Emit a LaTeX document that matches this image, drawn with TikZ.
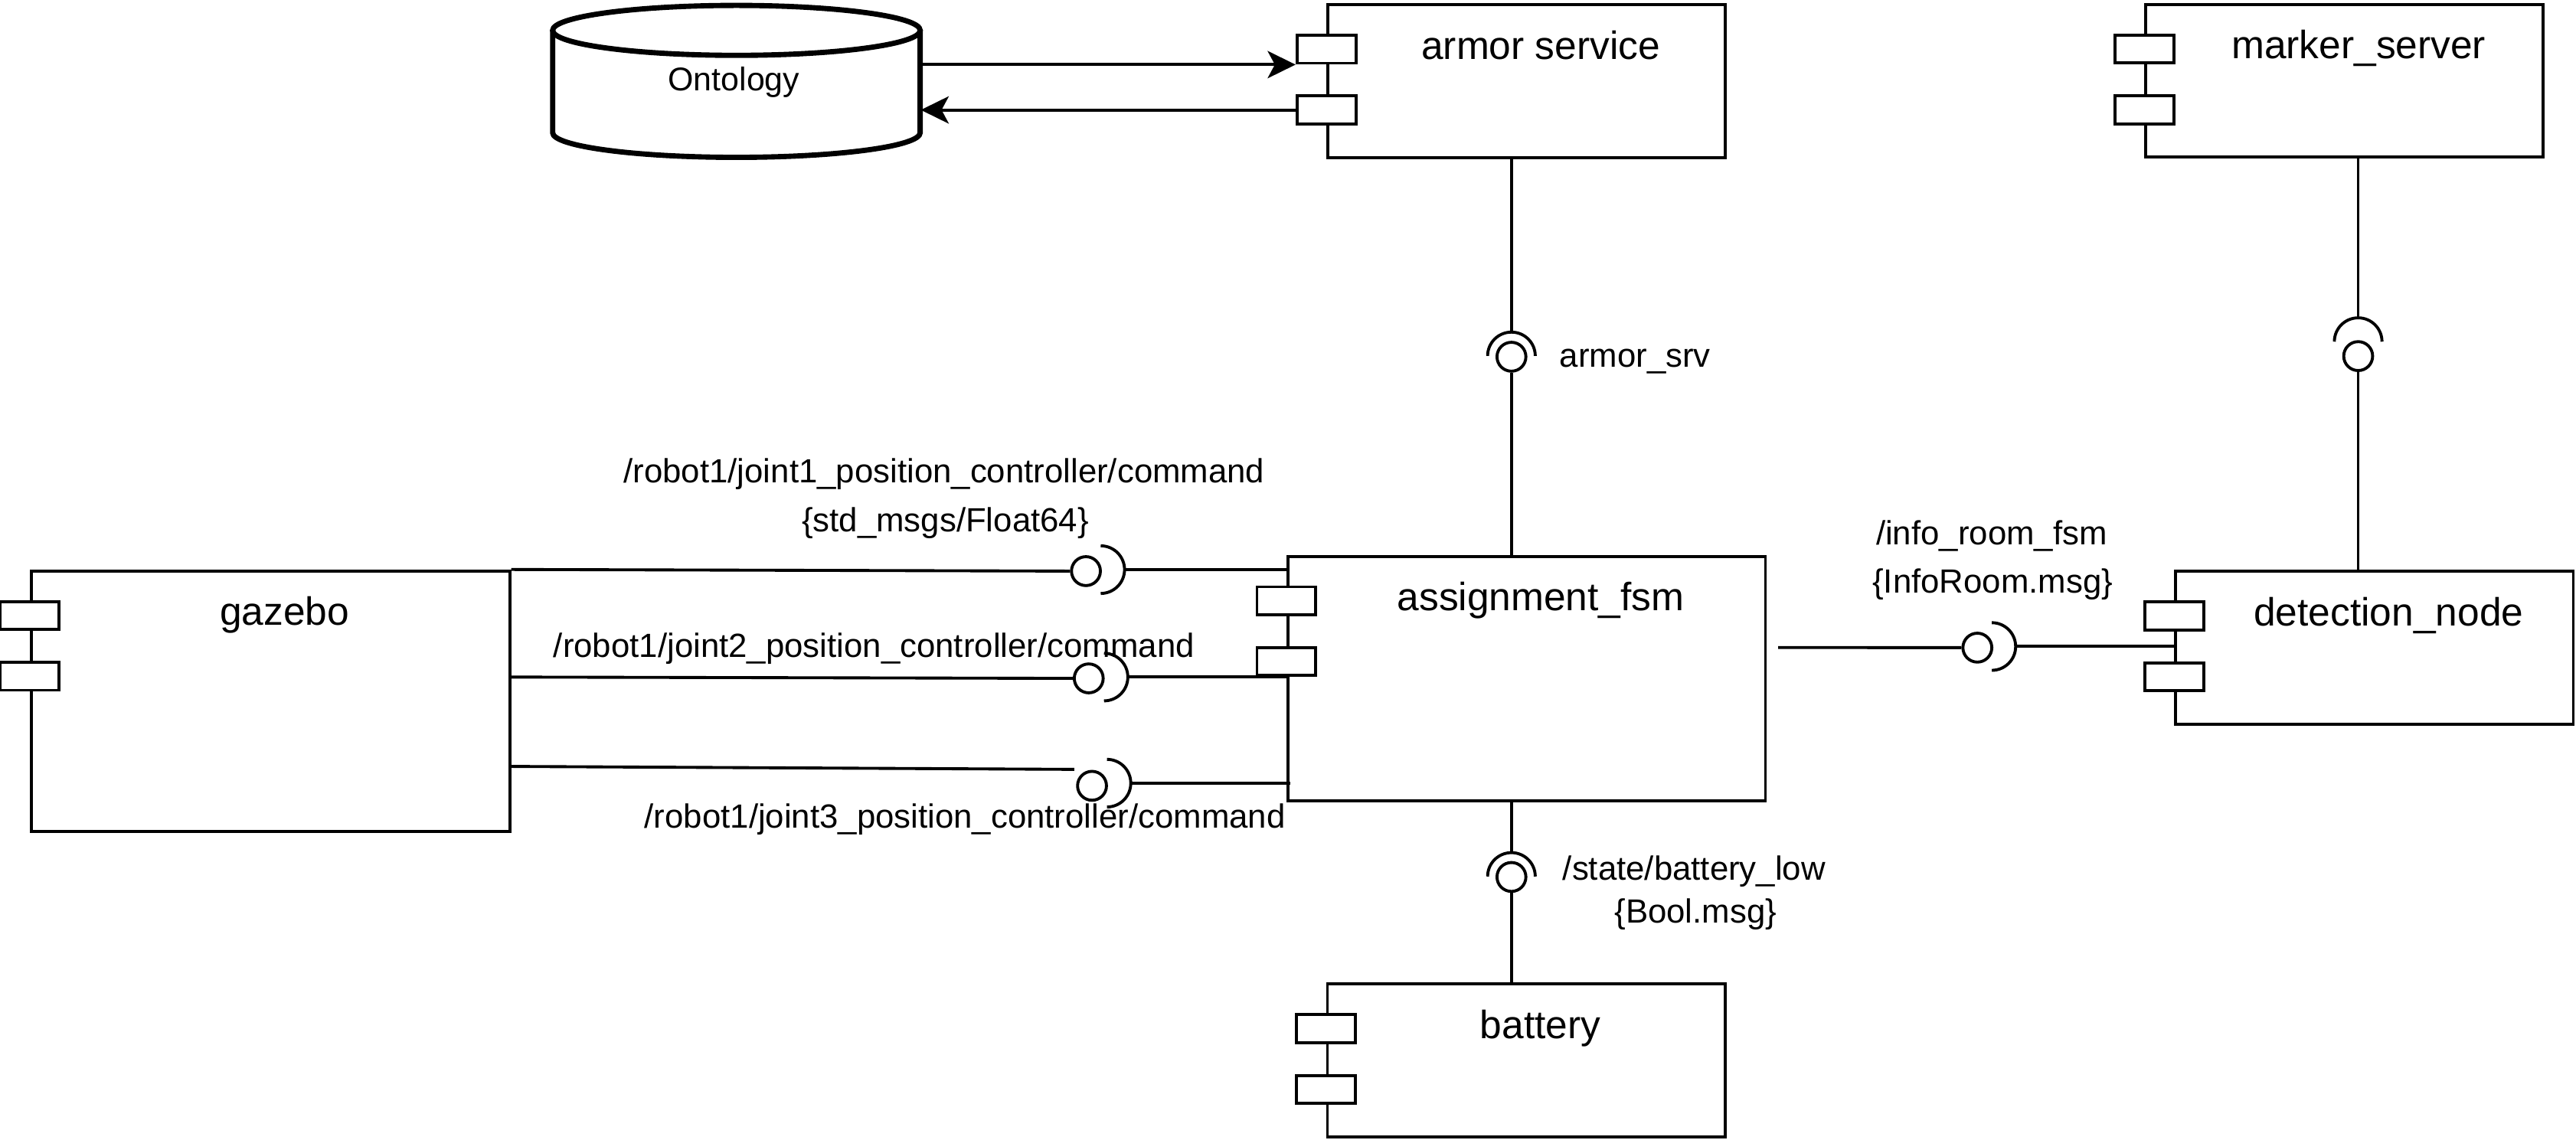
\documentclass[tikz,border=0pt]{standalone}
\usepackage{fontspec}
\setmainfont{Liberation Sans}
\usetikzlibrary{arrows.meta}
\begin{document}
\begin{tikzpicture}[x=0.5pt, y=-0.5pt,
  comp/.style={draw, rectangle, line width=0.9pt, fill=white, inner sep=0pt},
  smallbox/.style={comp, minimum width=121pt, minimum height=46.5pt},
  port/.style={draw, rectangle, line width=0.9pt, fill=white, inner sep=0pt, minimum width=17.9pt, minimum height=8.5pt},
  cname/.style={font=\fontsize{12}{14}\selectfont, anchor=base, inner sep=0pt},
  lbl/.style={font=\fontsize{10.2}{12}\selectfont, anchor=base, inner sep=0pt},
  ball/.style={circle, draw, line width=0.9pt, fill=white, inner sep=0pt, minimum size=8.8pt},
  wire/.style={line width=0.9pt},
  arr/.style={line width=0.9pt, -{Stealth[length=8.5pt, width=8.3pt, inset=2.2pt]}}
]
\useasboundingbox (0,0) rectangle (1568,693.6);

% ---------- Ontology cylinder ----------
\node[inner sep=0pt, minimum width=111.85pt, minimum height=46.15pt] (onto) at (448.25,49.45) {};
\draw[line width=1.6pt, fill=white] (336.4,18.5) -- (336.4,80.8)
  arc[start angle=180, end angle=0, x radius=111.85, y radius=15] -- (560.1,18.5);
\draw[line width=1.6pt, fill=white] (448.25,18.5) ellipse[x radius=111.85, y radius=15.2];
\node[font=\fontsize{10}{12}\selectfont, anchor=base, inner sep=0pt] (ontoT) at (446.7,55.2) {Ontology};

% ---------- components ----------
\node[smallbox] (armor) at (929.3,49.35) {};
\node[smallbox] (marker) at (1427.1,49.25) {};
\node[smallbox] (detect) at (1445.35,394.4) {};
\node[smallbox] (battery) at (929,645.65) {};
\node[comp, minimum width=145.65pt, minimum height=79.25pt] (gazebo) at (164.65,426.85) {};
\node[comp, minimum width=145.35pt, minimum height=74.35pt] (fsm) at (929.25,413.05) {};

\foreach \c in {armor,marker,detect,battery,gazebo,fsm}{
  \node[port] (\c P1) at ([yshift=-14pt]\c.north west) {};
  \node[port] (\c P2) at ([yshift=-32.5pt]\c.north west) {};
}

\node[cname] (armorT) at ([xshift=4.3pt, yshift=-17pt]armor.north) {armor service};
\node[cname] (markerT) at ([xshift=4.3pt, yshift=-17pt]marker.north) {marker\_server};
\node[cname] (detectT) at ([xshift=4.3pt, yshift=-17pt]detect.north) {detection\_node};
\node[cname] (batteryT) at ([xshift=4.3pt, yshift=-17pt]battery.north) {battery};
\node[cname] (gazeboT) at ([xshift=4.3pt, yshift=-17pt]gazebo.north) {gazebo};
\node[cname] (fsmT) at ([xshift=4.3pt, yshift=-17pt]fsm.north) {assignment\_fsm};

% ---------- ontology arrows ----------
\draw[arr] (onto.east |- armorP1.south) -- (armorP1.south west);
\draw[arr] (armorP2.west) -- (onto.east |- armorP2.west);

% ---------- armor_srv ----------
\coordinate (sockA) at (920,216.7);
\node[ball] (ballA) at (920,217.2) {};
\draw[wire] (armor.south -| sockA) -- ([yshift=7.25pt]sockA);
\draw[wire] ([xshift=-7.25pt]sockA) arc[start angle=180, end angle=360, radius=14.5];
\draw[wire] (ballA.south) -- (ballA |- fsm.north);
\node[lbl, anchor=base west] (armorL) at (949,223.3) {armor\_srv};

% ---------- marker_server -> detection_node ----------
\coordinate (sockM) at (1435.4,208);
\node[ball] (ballM) at (1435.4,216.8) {};
\draw[wire] (marker.south -| sockM) -- ([yshift=7.25pt]sockM);
\draw[wire] ([xshift=-7.25pt]sockM) arc[start angle=180, end angle=360, radius=14.5];
\draw[wire] (ballM.south) -- (ballM |- detect.north);

% ---------- battery ----------
\coordinate (sockB) at (920,533.6);
\node[ball] (ballB) at (920,533.9) {};
\draw[wire] (fsm.south -| sockB) -- ([yshift=7.25pt]sockB);
\draw[wire] ([xshift=-7.25pt]sockB) arc[start angle=180, end angle=360, radius=14.5];
\draw[wire] (ballB.south) -- (ballB |- battery.north);
\node[lbl] (batL1) at (1031.2,535.9) {/state/battery\_low};
\node[lbl] (batL2) at (1032.1,561.7) {\{Bool.msg\}};

% ---------- info_room_fsm ----------
\coordinate (infoStart) at (1082.3,394.2);
\coordinate (sockI) at (1212.4,393.6);
\node[ball] (ballI) at (1203.6,394.3) {};
\draw[wire] (infoStart) -- (ballI.west);
\draw[wire] ([yshift=7.25pt]sockI) arc[start angle=270, end angle=450, radius=14.5];
\draw[wire] ([xshift=7.25pt]sockI) -- (detect.west |- sockI);
\node[lbl] (infoL1) at (1212.3,331.7) {/info\_room\_fsm};
\node[lbl] (infoL2) at (1212.9,361.2) {\{InfoRoom.msg\}};

% ---------- joint1 ----------
\coordinate (sockJ1) at (670,346.8);
\node[ball] (ballJ1) at (661,347.7) {};
\draw[wire] (gazebo.north east) -- (ballJ1.west);
\draw[wire] ([yshift=7.25pt]sockJ1) arc[start angle=270, end angle=450, radius=14.5];
\draw[wire] ([xshift=7.25pt]sockJ1) -- (fsm.west |- sockJ1);
\node[lbl] (j1L1) at (574.7,294.1) {/robot1/joint1\_position\_controller/command};
\node[lbl] (j1L2) at (575.4,323.9) {\{std\_msgs/Float64\}};

% ---------- joint2 ----------
\coordinate (gz2) at (310.3,412.2);
\coordinate (sockJ2) at (672,412.2);
\node[ball] (ballJ2) at (662.7,413) {};
\draw[wire] (gz2) -- (ballJ2.west);
\draw[wire] ([yshift=7.25pt]sockJ2) arc[start angle=270, end angle=450, radius=14.5];
\draw[wire] ([xshift=7.25pt]sockJ2) -- (fsm.west |- sockJ2);
\node[lbl] (j2L) at (532,400.1) {/robot1/joint2\_position\_controller/command};

% ---------- joint3 ----------
\coordinate (gz3) at (310.3,466.6);
\coordinate (j3end) at (653.9,468.4);
\coordinate (sockJ3) at (673.8,476.8);
\coordinate (j3fsm) at (785.4,476.8);
\node[ball] (ballJ3) at (664.7,478.4) {};
\draw[wire] (gz3) -- (j3end);
\draw[wire] ([yshift=7.25pt]sockJ3) arc[start angle=270, end angle=450, radius=14.5];
\draw[wire] ([xshift=7.25pt]sockJ3) -- (j3fsm);
\node[lbl] (j3L) at (587.4,504.2) {/robot1/joint3\_position\_controller/command};

\end{tikzpicture}
\end{document}
